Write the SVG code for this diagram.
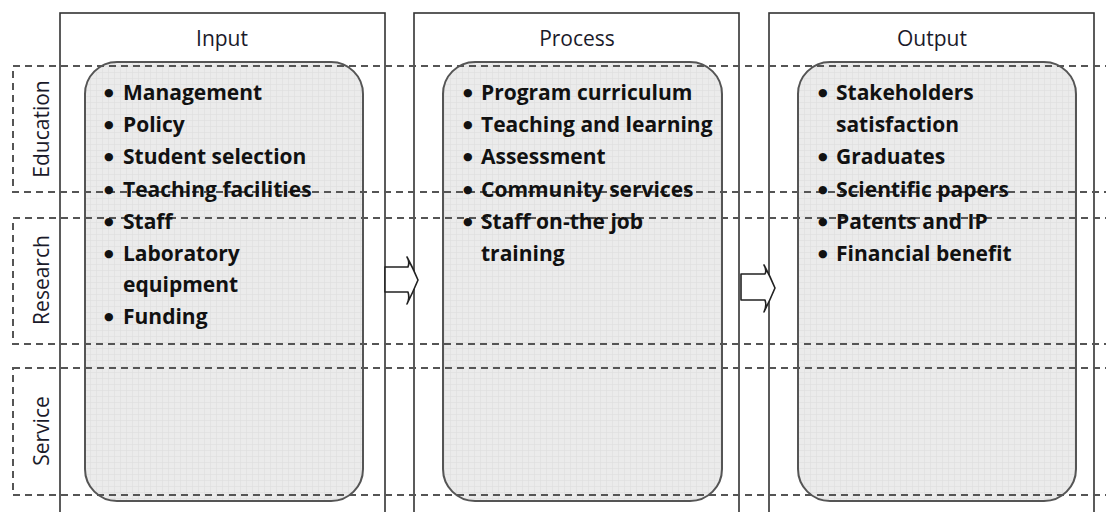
<svg xmlns="http://www.w3.org/2000/svg" width="1106" height="512" viewBox="0 0 1106 512">
<defs>
<pattern id="grid" width="6" height="6" patternUnits="userSpaceOnUse">
<rect width="6" height="6" fill="#ebebeb"/>
<path d="M0 0.5 H6 M0.5 0 V6" stroke="#dedede" stroke-width="0.6" fill="none"/>
</pattern>
<style>
.col{fill:#ffffff;stroke:#333333;stroke-width:1.6}
.box{fill:url(#grid);stroke:#555555;stroke-width:2}
.row{fill:none;stroke:#555555;stroke-width:2;stroke-dasharray:7 5}
.hdr{font-family:"Open Sans","Liberation Sans",sans-serif;font-size:21px;fill:#1a1a2a;text-anchor:middle}
.lbl{font-family:"Open Sans","Liberation Sans",sans-serif;font-size:21px;fill:#1a1a2a;text-anchor:middle;dominant-baseline:central}
.itm{font-family:"Open Sans","Liberation Sans",sans-serif;font-size:21px;font-weight:bold;fill:#111111}
.bul{font-family:"DejaVu Sans",sans-serif;font-size:11px;font-weight:normal}
.arr{fill:#ffffff;stroke:#222222;stroke-width:1.6;stroke-linejoin:round}
</style>
</defs>
<rect width="1106" height="512" fill="#ffffff"/>

<g id="col-input">
<rect class="col" x="60" y="13" width="325" height="510"/>
<text class="hdr" x="222" y="46">Input</text>
</g>
<g id="col-process">
<rect class="col" x="414" y="13" width="325" height="510"/>
<text class="hdr" x="577" y="46">Process</text>
</g>
<g id="col-output">
<rect class="col" x="769" y="13" width="325" height="510"/>
<text class="hdr" x="932" y="46">Output</text>
</g>

<g id="box-input"><rect class="box" x="85" y="62" width="278" height="439" rx="32"/></g>
<g id="box-process"><rect class="box" x="443" y="62" width="279" height="439" rx="32"/></g>
<g id="box-output"><rect class="box" x="798" y="62" width="278" height="439" rx="32"/></g>

<g id="row-education">
<rect class="row" x="13" y="66" width="1110" height="126"/>
<text class="lbl" transform="translate(41 129) rotate(-90)">Education</text>
</g>
<g id="row-research">
<rect class="row" x="13" y="218" width="1110" height="126"/>
<text class="lbl" transform="translate(41 280) rotate(-90)">Research</text>
</g>
<g id="row-service">
<rect class="row" x="13" y="368" width="1110" height="127"/>
<text class="lbl" transform="translate(41 431) rotate(-90)">Service</text>
</g>

<g id="items-input" class="itm">
<text x="104" y="96"><tspan class="bul">●</tspan><tspan x="123" dy="4">Management</tspan></text>
<text x="104" y="128"><tspan class="bul">●</tspan><tspan x="123" dy="4">Policy</tspan></text>
<text x="104" y="160"><tspan class="bul">●</tspan><tspan x="123" dy="4">Student selection</tspan></text>
<text x="104" y="193"><tspan class="bul">●</tspan><tspan x="123" dy="4">Teaching facilities</tspan></text>
<text x="104" y="225"><tspan class="bul">●</tspan><tspan x="123" dy="4">Staff</tspan></text>
<text x="104" y="257"><tspan class="bul">●</tspan><tspan x="123" dy="4">Laboratory</tspan><tspan x="123" dy="31">equipment</tspan></text>
<text x="104" y="320"><tspan class="bul">●</tspan><tspan x="123" dy="4">Funding</tspan></text>
</g>
<g id="items-process" class="itm">
<text x="463" y="96"><tspan class="bul">●</tspan><tspan x="481" dy="4">Program curriculum</tspan></text>
<text x="463" y="128"><tspan class="bul">●</tspan><tspan x="481" dy="4">Teaching and learning</tspan></text>
<text x="463" y="160"><tspan class="bul">●</tspan><tspan x="481" dy="4">Assessment</tspan></text>
<text x="463" y="193"><tspan class="bul">●</tspan><tspan x="481" dy="4">Community services</tspan></text>
<text x="463" y="225"><tspan class="bul">●</tspan><tspan x="481" dy="4">Staff on-the job</tspan><tspan x="481" dy="32">training</tspan></text>
</g>
<g id="items-output" class="itm">
<text x="818" y="96"><tspan class="bul">●</tspan><tspan x="836" dy="4">Stakeholders</tspan><tspan x="836" dy="32">satisfaction</tspan></text>
<text x="818" y="160"><tspan class="bul">●</tspan><tspan x="836" dy="4">Graduates</tspan></text>
<text x="818" y="193"><tspan class="bul">●</tspan><tspan x="836" dy="4">Scientific papers</tspan></text>
<text x="818" y="225"><tspan class="bul">●</tspan><tspan x="836" dy="4">Patents and IP</tspan></text>
<text x="818" y="257"><tspan class="bul">●</tspan><tspan x="836" dy="4">Financial benefit</tspan></text>
</g>

<g id="connectors">
<path class="arr" d="M385 267 H408 Q410 262 407 257 Q413 268 418 280 Q413 292 407 304 Q410 298 408 292 H385 Z"/>
<path class="arr" d="M741 274 H765 Q767 270 764 265 Q770 276 775 288 Q770 300 764 312 Q767 306 765 300 H741 Z"/>
</g>
</svg>
